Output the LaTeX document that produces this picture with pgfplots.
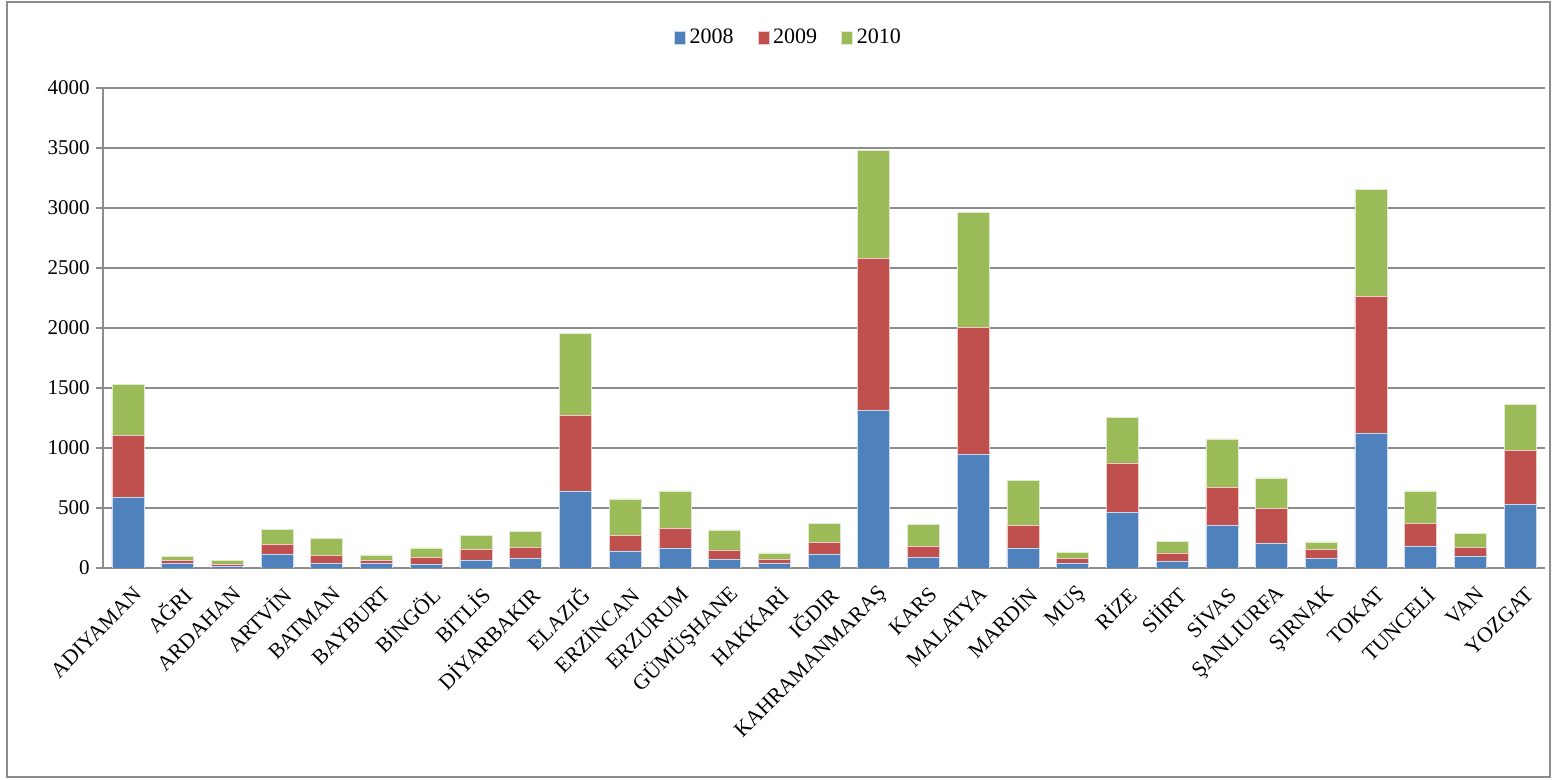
\documentclass[border=0pt]{standalone}
\usepackage{fontspec}
\setmainfont{Liberation Serif}
\usepackage{pgfplots}
\pgfplotsset{compat=1.18}
\usepackage{pgfplotstable}
\definecolor{cA}{HTML}{4F81BD}
\definecolor{cB}{HTML}{C0504D}
\definecolor{cC}{HTML}{9BBB59}
\definecolor{gridc}{HTML}{8C8C8C}

\pgfplotstableread{
x a b c
0 590 515 425
1 35 30 30
2 15 15 35
3 110 87 125
4 36 69 142
5 40 22 47
6 30 59 78
7 67 88 114
8 83 89 133
9 642 627 689
10 142 130 303
11 167 166 309
12 75 75 167
13 39 36 50
14 117 96 156
15 1311 1269 903
16 89 89 183
17 944 1061 961
18 167 191 375
19 42 38 48
20 464 411 377
21 58 67 97
22 358 311 406
23 208 289 253
24 78 77 62
25 1125 1138 895
26 183 186 273
27 100 69 117
28 527 450 384
}\data

\begin{document}
\fontsize{10.5}{12}\selectfont
\begin{tikzpicture}
\useasboundingbox (-51.5pt,-106pt) rectangle (727pt,284pt);
\draw[gridc, line width=0.8pt] (-48pt,-104.5pt) rectangle (723.5pt,283pt);
\begin{axis}[
  at={(0,0)}, anchor=south west,
  scale only axis, width=721pt, height=240pt,
  ybar stacked, bar width=16pt,
  xmin=-0.5, xmax=28.5, ymin=0, ymax=4000,
  ytick={0,500,...,4000},
  xtick={0,...,28},
  xticklabels={ADIYAMAN,AĞRI,ARDAHAN,ARTVİN,BATMAN,BAYBURT,BİNGÖL,BİTLİS,DİYARBAKIR,ELAZIĞ,ERZİNCAN,ERZURUM,GÜMÜŞHANE,HAKKARİ,IĞDIR,KAHRAMANMARAŞ,KARS,MALATYA,MARDİN,MUŞ,RİZE,SİİRT,SİVAS,ŞANLIURFA,ŞIRNAK,TOKAT,TUNCELİ,VAN,YOZGAT},
  xticklabel style={rotate=45, anchor=east, inner sep=1pt, xshift=-1pt, yshift=-9pt, font=\fontsize{10.8}{12}\selectfont},
  major x tick style={draw=none},
  ymajorgrids, grid style={gridc, line width=1pt},
  axis x line*=bottom, axis y line*=left,
  axis line style={gridc, line width=1pt},
  tick align=outside, major tick length=3.5pt,
  major y tick style={gridc, line width=0.8pt},
  /pgf/number format/assume math mode=true,
  /pgf/number format/1000 sep={},
  yticklabel style={inner sep=1pt, xshift=-2pt},
  legend style={at={(axis description cs:0.476,1.104)}, anchor=center, draw=none, fill=none, legend columns=-1,
    font=\fontsize{11}{12}\selectfont,
    /tikz/every even column/.append style={column sep=10pt}},
  legend image code/.code={\fill[#1] (0pt,-3.25pt) rectangle (5.5pt,3.25pt);},
]
\addplot[fill=cA, draw=white!70!cA, line width=0.3pt] table[x=x,y=a]{\data};
\addplot[fill=cB, draw=white!70!cB, line width=0.3pt] table[x=x,y=b]{\data};
\addplot[fill=cC, draw=white!70!cC, line width=0.3pt] table[x=x,y=c]{\data};
\legend{2008,2009,2010}
\end{axis}
\end{tikzpicture}
\end{document}
